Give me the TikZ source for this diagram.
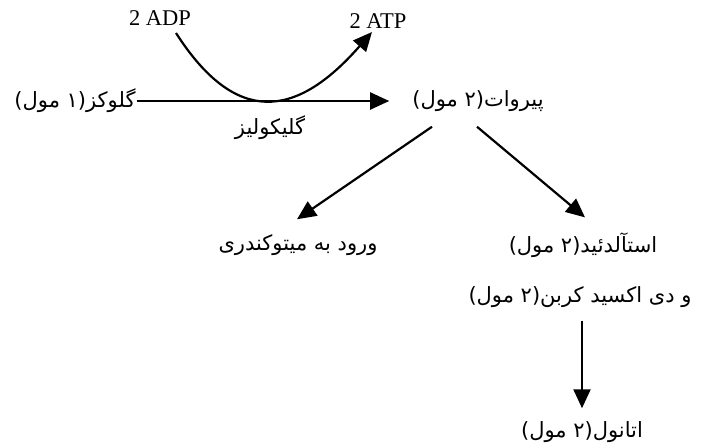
\documentclass[tikz,border=0pt]{standalone}
\usepackage{fontspec}
\setmainfont{Liberation Serif}
\newfontfamily\farsi[Script=Arabic]{DejaVu Sans}
\TeXXeTstate=1
\usetikzlibrary{arrows.meta}
\newcommand{\fa}[1]{{\farsi\beginR #1\endR}}

\begin{document}
\begin{tikzpicture}[x=1pt,y=-1pt,
    fatext/.style={font=\fontsize{21}{25}\farsi, inner sep=1pt},
    entext/.style={font=\fontsize{22.5}{26}\selectfont, inner sep=1pt},
    arr/.style={-{Triangle[length=19pt,width=17pt]}, line width=2.2pt}]
    \useasboundingbox (0,0) rectangle (709,444);

    % Glycolysis
    \node[fatext] (glc) at (75,101) {\fa{گلوکز(۱ مول)}};
    \node[fatext] (pyr) at (478,101) {\fa{پیروات(۲ مول)}};
    \node[fatext] (gly) at (270,128) {\fa{گلیکولیز}};
    \node[entext] (adp) at (160,18) {2 ADP};
    \node[entext] (atp) at (378,21) {2 ATP};
    \coordinate (adpend) at (176,33);
    \coordinate (atpend) at (372,32);
    \draw[arr] (glc.east) -- ([xshift=-22pt]pyr.west);
    \draw[arr] (adpend) .. controls (235,125) and (295,120) .. (atpend);

    % Pyruvate fate
    \node[fatext] (mit) at (298,245) {\fa{ورود به میتوکندری}};
    \node[fatext] (ald) at (583,245) {\fa{استآلدئید(۲ مول)}};
    \node[fatext] (co2) at (580,297) {\fa{و دی اکسید کربن(۲ مول)}};
    \node[fatext] (eth) at (582,432) {\fa{اتانول(۲ مول)}};
    \draw[arr] ([xshift=-46pt,yshift=-14pt]pyr.south) -- ([xshift=-1pt,yshift=14pt]mit.north);
    \draw[arr] ([xshift=-1pt,yshift=-14pt]pyr.south) -- ([xshift=2pt,yshift=14pt]ald.north);
    \draw[arr] ([xshift=2pt,yshift=-12pt]co2.south) -- ([yshift=12pt]eth.north);
\end{tikzpicture}
\end{document}
